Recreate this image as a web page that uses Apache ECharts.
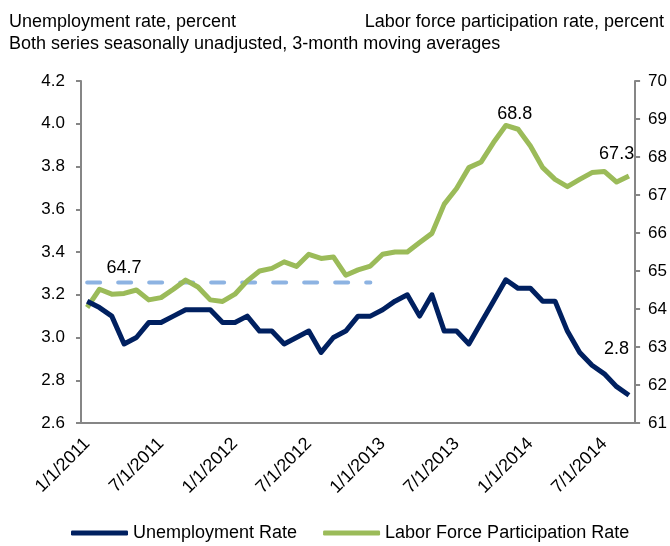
<!DOCTYPE html>
<html>
<head>
<meta charset="utf-8">
<script src="https://cdn.jsdelivr.net/npm/echarts@6/dist/echarts.min.js"></script>
<style>
  html, body { margin: 0; padding: 0; background: #fff; }
  #chart { width: 670px; height: 546px; }
</style>
</head>
<body>
<div id="chart"></div>
<script>
// 月份: 2011年1月 - 2014年9月
const startYear = 2011;
const monthCount = 45;
const months = [];
for (let k = 0; k < monthCount; k++) {
  months.push((k % 12 + 1) + '/1/' + (startYear + Math.floor(k / 12)));
}

// 失业率 (左轴)
const unempRate = [3.17, 3.14, 3.10, 2.97, 3.00, 3.07, 3.07, 3.10, 3.13, 3.13,
  3.13, 3.07, 3.07, 3.10, 3.03, 3.03, 2.97, 3.00, 3.03, 2.93,
  3.00, 3.03, 3.10, 3.10, 3.13, 3.17, 3.20, 3.10, 3.20, 3.03,
  3.03, 2.97, 3.07, 3.17, 3.27, 3.23, 3.23, 3.17, 3.17, 3.03,
  2.93, 2.87, 2.83, 2.77, 2.73];

// 劳动参与率 (右轴)
const lfpRate = [64.04, 64.52, 64.39, 64.41, 64.50, 64.24, 64.30, 64.52, 64.76, 64.58,
  64.24, 64.20, 64.39, 64.74, 65.00, 65.07, 65.24, 65.12, 65.44, 65.33,
  65.37, 64.89, 65.03, 65.13, 65.44, 65.50, 65.50, 65.75, 65.99, 66.76,
  67.17, 67.72, 67.87, 68.38, 68.83, 68.73, 68.29, 67.72, 67.41, 67.22,
  67.41, 67.59, 67.62, 67.34, 67.50];

// 2011-2012 平均参与率 (虚线)
const lfpAvg = 64.7;
const lfpAvgMonths = 24;

// 坐标轴刻度
const leftTicks = { min: 2.6, max: 4.2, step: 0.2 };
const rightTicks = { min: 61, max: 70, step: 1 };

const FONT = '"Liberation Sans", Arial, sans-serif';
const NAVY = '#002060';
const GREEN = '#9BBB59';
const LIGHTBLUE = '#8DB3E2';
const AXIS = '#868686';

let myChart = echarts.init(document.getElementById('chart'));

// 给指定的点加数值标注
let withLabels = (arr, labels) => arr.map((v, k) => labels[k]
  ? { value: v, label: Object.assign({ show: true, color: '#000', fontSize: 18, fontFamily: FONT,
      formatter: p => Number(p.value).toFixed(1) }, labels[k]) }
  : v);

const avgData = [];
for (let k = 0; k < monthCount; k++) avgData.push(k < lfpAvgMonths ? lfpAvg : null);

let axisCommon = {
  axisLine: { show: true, lineStyle: { color: AXIS, width: 2 } },
  axisTick: { show: true, length: 5, lineStyle: { color: AXIS, width: 2 } },
  splitLine: { show: false },
  axisLabel: { color: '#000', fontSize: 17, fontFamily: FONT, margin: 16 }
};

let lineCommon = {
  type: 'line',
  showSymbol: true,
  showAllSymbol: true,
  symbol: 'circle',
  symbolSize: 0,
  label: { show: false },
  emphasis: { disabled: true }
};

let titleStyle = { fontSize: 18, fontWeight: 'normal', color: '#000', fontFamily: FONT };

let option = {
  animation: false,
  backgroundColor: '#fff',
  textStyle: { fontFamily: FONT },
  title: [
    { text: 'Unemployment rate, percent', left: 4, top: 8, textStyle: titleStyle },
    { text: 'Labor force participation rate, percent', right: 1, top: 8, textStyle: titleStyle },
    { text: 'Both series seasonally unadjusted, 3-month moving averages', left: 4, top: 30, textStyle: titleStyle }
  ],
  legend: {
    data: ['Unemployment Rate', 'Labor Force Participation Rate'],
    left: 66,
    top: 519,
    icon: 'roundRect',
    itemWidth: 57,
    itemHeight: 5,
    itemGap: 26,
    textStyle: { color: '#000', fontSize: 18, fontFamily: FONT }
  },
  grid: { left: 81, right: 33, top: 81, bottom: 123 },
  xAxis: {
    type: 'category',
    data: months,
    boundaryGap: true,
    axisLine: { lineStyle: { color: AXIS, width: 2 } },
    axisTick: { interval: 5, length: 5, lineStyle: { color: AXIS, width: 2 } },
    axisLabel: { interval: 5, rotate: 45, color: '#000', fontSize: 18, fontFamily: FONT, margin: 18 }
  },
  yAxis: [
    Object.assign({}, axisCommon, {
      type: 'value', position: 'left',
      min: leftTicks.min, max: leftTicks.max, interval: leftTicks.step,
      axisLabel: Object.assign({}, axisCommon.axisLabel, { formatter: v => v.toFixed(1) })
    }),
    Object.assign({}, axisCommon, {
      type: 'value', position: 'right',
      min: rightTicks.min, max: rightTicks.max, interval: rightTicks.step,
      axisLabel: Object.assign({}, axisCommon.axisLabel, { margin: 13 })
    })
  ],
  series: [
    Object.assign({}, lineCommon, {
      name: 'Unemployment Rate',
      yAxisIndex: 0,
      z: 3,
      color: NAVY,
      lineStyle: { color: NAVY, width: 5, join: 'round' },
      data: withLabels(unempRate, { 43: { position: 'top', distance: 5, offset: [0, -24] } })
    }),
    Object.assign({}, lineCommon, {
      name: 'Labor Force Participation Rate',
      yAxisIndex: 1,
      z: 2,
      color: GREEN,
      lineStyle: { color: GREEN, width: 5, join: 'round' },
      data: withLabels(lfpRate, {
        34: { position: 'top', distance: 2, offset: [9, 0] },
        43: { position: 'top', distance: 5, offset: [0, -14] }
      })
    }),
    Object.assign({}, lineCommon, {
      name: 'avg',
      yAxisIndex: 1,
      z: 1,
      silent: true,
      color: LIGHTBLUE,
      lineStyle: { color: LIGHTBLUE, width: 4, type: [13, 18], cap: 'round' },
      data: withLabels(avgData, { 3: { position: 'top', distance: 5 } })
    })
  ]
};

myChart.setOption(option);
window.addEventListener('resize', function () {
  myChart.resize();
});
</script>
</body>
</html>
